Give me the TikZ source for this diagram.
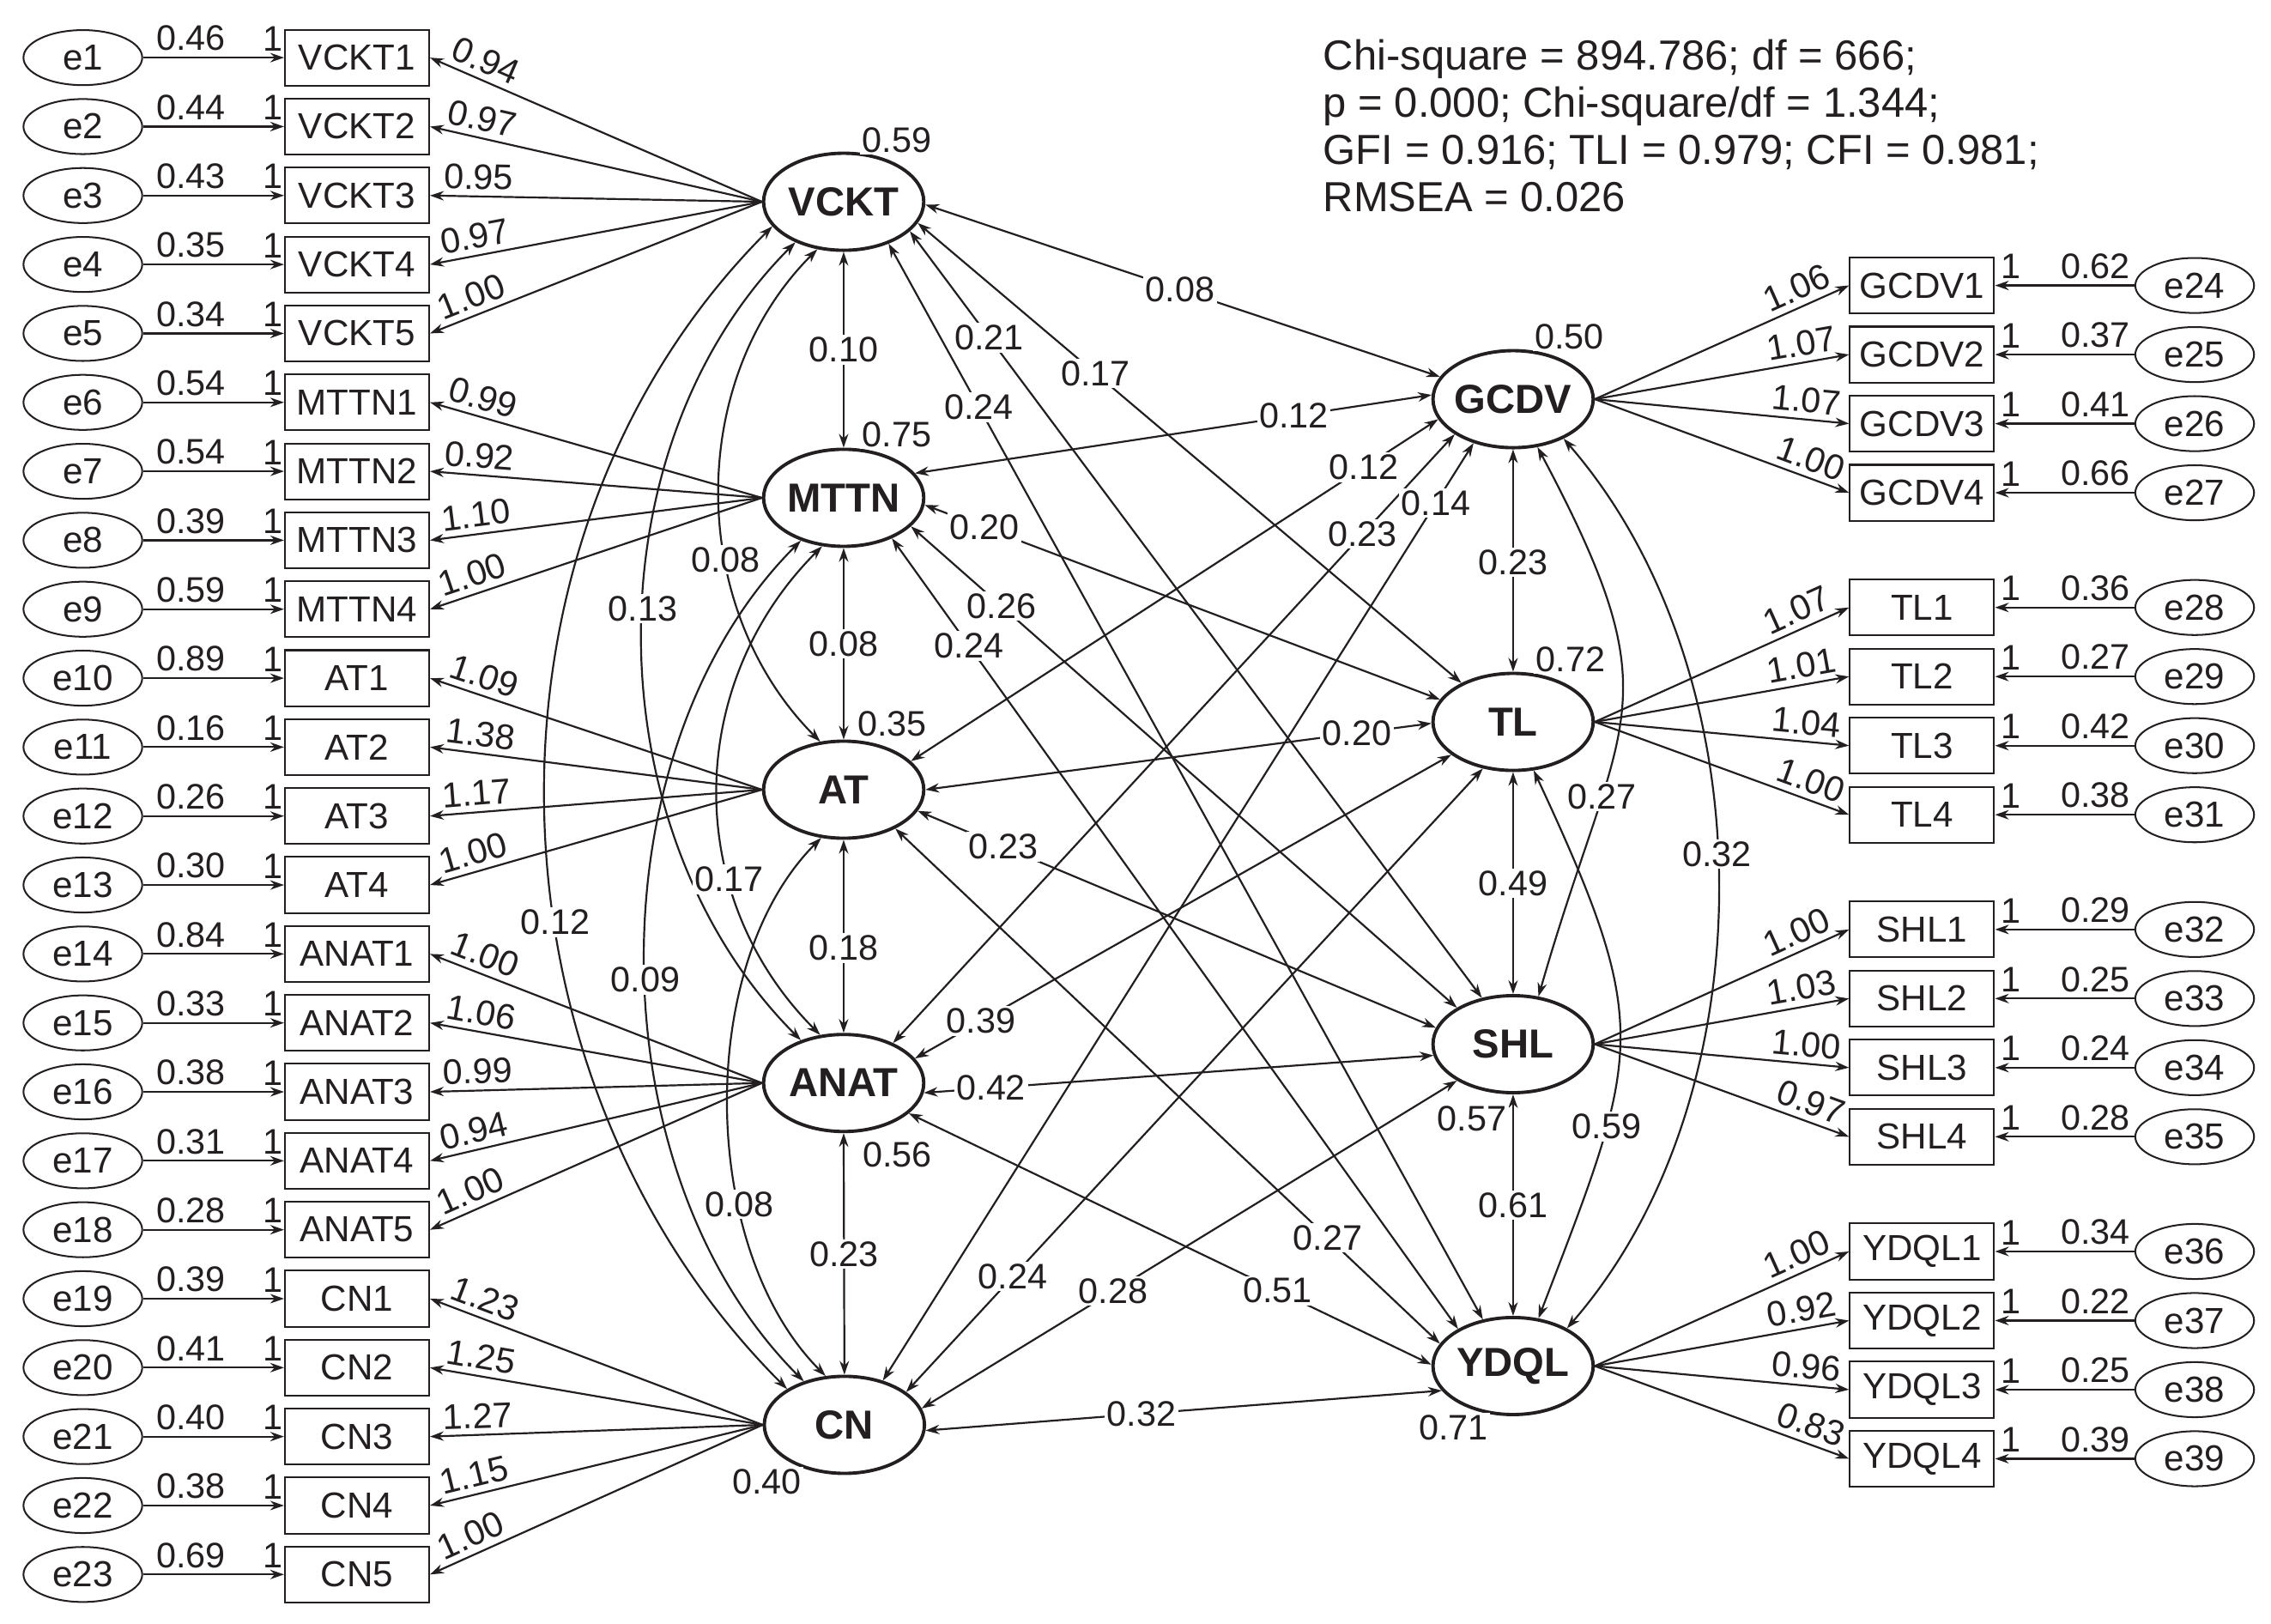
\documentclass[tikz,border=0pt]{standalone}
\usepackage{fontspec}
\setmainfont{Liberation Sans}
\usetikzlibrary{shapes.geometric,arrows.meta}
\definecolor{ink}{RGB}{35,31,32}
\begin{document}
\begin{tikzpicture}[x=1pt,y=1pt,color=ink,
  lat/.style={ellipse, draw, line width=2.3pt, minimum width=110.6pt, minimum height=67pt, inner sep=0pt, font=\fontsize{28}{30}\selectfont\bfseries},
  err/.style={ellipse, draw, line width=1.2pt, minimum width=82pt, minimum height=38pt, inner sep=0pt, font=\fontsize{25}{27}\selectfont},
  obs/.style={rectangle, draw, line width=1.2pt, minimum width=99.6pt, minimum height=38.6pt, inner sep=0pt, font=\fontsize{25}{27}\selectfont},
  num/.style={font=\fontsize{24.5}{26}\selectfont, inner sep=1.5pt, above=2.5pt},
  lab/.style={font=\fontsize{24.5}{26}\selectfont, fill=white, inner sep=1.5pt},
  fitt/.style={font=\fontsize{29}{31}\selectfont, inner sep=0pt, anchor=base west},
  arr/.style={line width=1.3pt, -{Stealth[length=9.5pt,width=6.5pt]}},
  arrL/.style={line width=1.3pt, {Stealth[length=9.5pt,width=6.5pt]}-},
  dbl/.style={line width=1.3pt, {Stealth[length=9.5pt,width=6.5pt]}-{Stealth[length=9.5pt,width=6.5pt]}}
]
\fill[white] (0,0) rectangle (1568,1120.6);
\useasboundingbox (0,0) rectangle (1568,1120.6);

% latent variables
\node[lat] (VCKT) at (582.5,981.3) {\makebox[0pt]{VCKT}};
\node[lat] (MTTN) at (582.5,776.9) {\makebox[0pt]{MTTN}};
\node[lat] (AT)   at (582.5,575.4) {\makebox[0pt]{AT}};
\node[lat] (ANAT) at (582.5,372.9) {\makebox[0pt]{ANAT}};
\node[lat] (CN)   at (583.0,136.9) {\makebox[0pt]{CN}};
\node[lat] (GCDV) at (1044.7,845.0) {\makebox[0pt]{GCDV}};
\node[lat] (TL)   at (1044.7,622.2) {\makebox[0pt]{TL}};
\node[lat] (SHL)  at (1044.7,399.7) {\makebox[0pt]{SHL}};
\node[lat] (YDQL) at (1044.7,177.5) {\makebox[0pt]{YDQL}};

% left measurement part
\foreach \i/\nm/\lt/\ev/\ld in {
 1/VCKT1/VCKT/0.46/0.94, 2/VCKT2/VCKT/0.44/0.97, 3/VCKT3/VCKT/0.43/0.95, 4/VCKT4/VCKT/0.35/0.97, 5/VCKT5/VCKT/0.34/1.00,
 6/MTTN1/MTTN/0.54/0.99, 7/MTTN2/MTTN/0.54/0.92, 8/MTTN3/MTTN/0.39/1.10, 9/MTTN4/MTTN/0.59/1.00,
 10/AT1/AT/0.89/1.09, 11/AT2/AT/0.16/1.38, 12/AT3/AT/0.26/1.17, 13/AT4/AT/0.30/1.00,
 14/ANAT1/ANAT/0.84/1.00, 15/ANAT2/ANAT/0.33/1.06, 16/ANAT3/ANAT/0.38/0.99, 17/ANAT4/ANAT/0.31/0.94, 18/ANAT5/ANAT/0.28/1.00,
 19/CN1/CN/0.39/1.23, 20/CN2/CN/0.41/1.25, 21/CN3/CN/0.40/1.27, 22/CN4/CN/0.38/1.15, 23/CN5/CN/0.69/1.00}{
  \pgfmathsetmacro\yy{1080.8-47.6*(\i-1)}
  \node[obs] (\nm) at (246.5,\yy) {\nm};
  \node[err] (e\i) at (57.2,\yy) {e\i};
  \draw[arr] (e\i) -- node[num,pos=.34]{\ev} node[num,pos=.922]{1} (\nm);
  \draw[arrL] (\nm.east) -- node[num,sloped,pos=.145]{\ld} (\lt.west);
}

% right measurement part
\foreach \i/\nm/\lt/\ev/\ld/\yy in {
 24/GCDV1/GCDV/0.62/1.06/923.5, 25/GCDV2/GCDV/0.37/1.07/875.8, 26/GCDV3/GCDV/0.41/1.07/828.1, 27/GCDV4/GCDV/0.66/1.00/780.4,
 28/TL1/TL/0.36/1.07/701.2, 29/TL2/TL/0.27/1.01/653.5, 30/TL3/TL/0.42/1.04/605.8, 31/TL4/TL/0.38/1.00/558.1,
 32/SHL1/SHL/0.29/1.00/478.9, 33/SHL2/SHL/0.25/1.03/431.2, 34/SHL3/SHL/0.24/1.00/383.5, 35/SHL4/SHL/0.28/0.97/335.8,
 36/YDQL1/YDQL/0.34/1.00/256.6, 37/YDQL2/YDQL/0.22/0.92/208.9, 38/YDQL3/YDQL/0.25/0.96/161.2, 39/YDQL4/YDQL/0.39/0.83/113.5}{
  \node[obs] (\nm) at (1327.05,\yy) {\nm};
  \node[err] (e\i) at (1515.3,\yy) {e\i};
  \draw[arr] (e\i) -- node[num,pos=.278]{\ev} node[num,pos=.886]{1} (\nm);
  \draw[arr] (\lt.east) -- node[num,sloped,pos=.825]{\ld} (\nm.west);
}

% correlations
\def\straightlist{VCKT/-2/GCDV/163/.495/0.08, VCKT/-16/TL/143/.327/0.17, VCKT/-24/SHL/124/.139/0.21, VCKT/-43/YDQL/123/.152/0.24,
 MTTN/19/GCDV/177/.733/0.12, MTTN/-5/TL/163/.116/0.20, MTTN/-23/SHL/147/.166/0.26, MTTN/-40/YDQL/146/.136/0.24,
 AT/23/GCDV/195/.859/0.12, AT/0/TL/181/.853/0.20, AT/-16/SHL/168/.165/0.23, AT/-37/YDQL/163/.794/0.27,
 ANAT/39/GCDV/211/.836/0.23, ANAT/19/TL/208/.123/0.39, ANAT/-7/SHL/188/.132/0.42, ANAT/-25/YDQL/179/.706/0.51,
 CN/49/GCDV/228/.936/0.14, CN/28/TL/237/.185/0.24, CN/12/SHL/213/.358/0.28, CN/-4/YDQL/199/.418/0.32,
 VCKT/270/MTTN/90/.5/0.10, MTTN/270/AT/90/.5/0.08, AT/270/ANAT/90/.56/0.18, ANAT/270/CN/90/.5/0.23,
 GCDV/270/TL/90/.507/0.23, TL/270/SHL/90/.502/0.49, SHL/270/YDQL/90/.5/0.61}
\def\curvelist{VCKT/199/CN/148/225/135/0.97/0.59/0.12, VCKT/220/ANAT/135/225/135/0.94/0.463/0.13,
 VCKT/241/AT/116/225/135/0.97/0.62/0.08, MTTN/225/CN/133/225/135/0.90/0.52/0.09,
 MTTN/246/ANAT/116/225/135/1.02/0.67/0.17, AT/245/CN/111/225/135/0.85/0.66/0.08,
 GCDV/-63/SHL/62/-62/74/1.38/0.69/0.27, TL/-67/YDQL/62/-65/69/1.33/0.69/0.59,
 GCDV/-38/YDQL/35/-49/49/0.89/0.47/0.32}

\foreach \na/\angA/\nb/\angB/\pp/\lbl in \straightlist {
  \draw[dbl] (\na.\angA) -- (\nb.\angB);
}
\foreach \na/\angA/\nb/\angB/\oa/\ia/\lo/\pp/\lbl in \curvelist {
  \draw[dbl] (\na.\angA) to[out=\oa,in=\ia,looseness=\lo] (\nb.\angB);
}
\foreach \na/\angA/\nb/\angB/\pp/\lbl in \straightlist {
  \path (\na.\angA) -- node[lab,pos=\pp]{\lbl} (\nb.\angB);
}
\foreach \na/\angA/\nb/\angB/\oa/\ia/\lo/\pp/\lbl in \curvelist {
  \path (\na.\angA) to[out=\oa,in=\ia,looseness=\lo] node[lab,pos=\pp]{\lbl} (\nb.\angB);
}

% squared multiple correlations
\node[lab] (r1) at (619.3,1023.9) {0.59};
\node[lab] (r2) at (619.3,820.7) {0.75};
\node[lab] (r3) at (615.9,620.9) {0.35};
\node[lab] (r4) at (619.4,323.6) {0.56};
\node[lab] (r5) at (529.4,97.4) {0.40};
\node[lab] (r6) at (1083.5,888.2) {0.50};
\node[lab] (r7) at (1084.4,665.6) {0.72};
\node[lab] (r8) at (1016.3,348.1) {0.57};
\node[lab] (r9) at (1003.4,135.1) {0.71};

% fit statistics
\node[fitt] (f1) at (913.5,1072.2) {Chi-square = 894.786; df = 666;};
\node[fitt] (f2) at (913.5,1039.6) {p = 0.000; Chi-square/df = 1.344;};
\node[fitt] (f3) at (913.5,1007.0) {GFI = 0.916; TLI = 0.979; CFI = 0.981;};
\node[fitt] (f4) at (913.5,974.4) {RMSEA = 0.026};
\end{tikzpicture}
\end{document}
